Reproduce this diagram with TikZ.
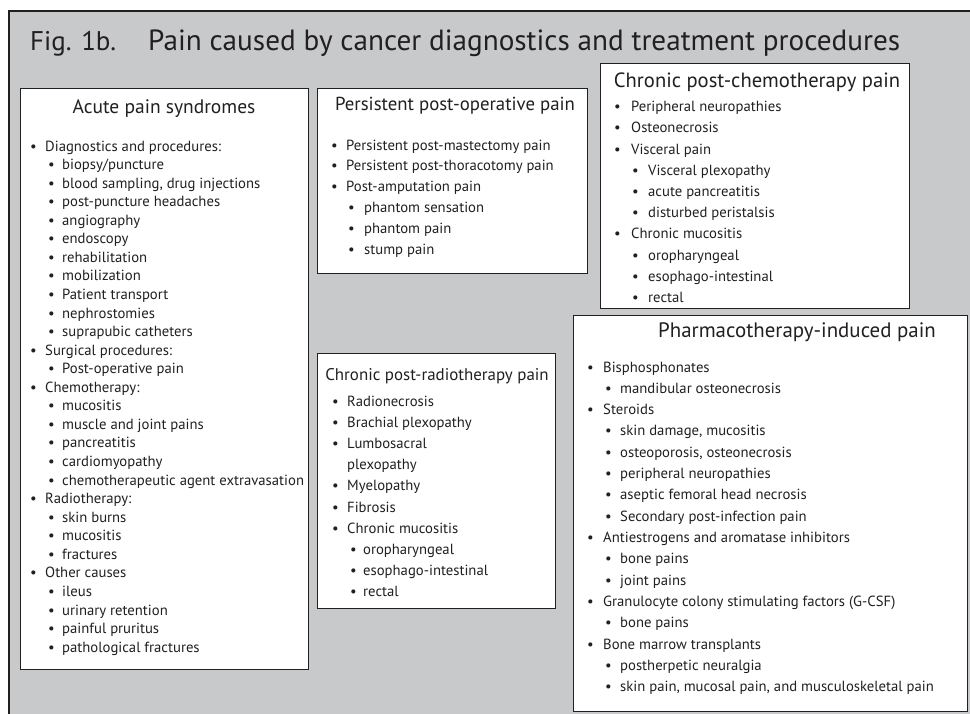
\documentclass[tikz,border=0pt]{standalone}
\usepackage{fontspec}
\setmainfont{PT Sans}
\definecolor{panel}{HTML}{C8C9CB}
\definecolor{ink}{HTML}{231F20}

\tikzset{
  box/.style={draw=ink, line width=1.3pt, fill=white, anchor=north west, inner sep=0pt},
  head/.style={anchor=base, inner sep=0pt, text=ink, font=\fontsize{#1}{#1}\selectfont},
  head/.default=19.5,
  entry/.style={anchor=base west, inner sep=0pt, text=ink, font=\fontsize{14.7}{14.7}\selectfont},
  figtitle/.style={anchor=base west, inner sep=0pt, text=ink, font=\fontsize{#1}{#1}\selectfont},
}

% #1 name prefix, #2 bullet x, #3 text x, #4 sub-bullet x, #5 sub-text x,
% #6 first baseline, #7 line spacing, #8 list of level/text pairs
% level 0 = bullet, 1 = sub-bullet, 2 = continuation line
\newcommand\bulletlist[8]{%
  \foreach \lvl/\txt [count=\k] in {#8} {
    \pgfmathsetmacro\yy{#6+(\k-1)*#7}
    \ifcase\lvl
      \node[entry] (#1b\k) at (#2,\yy) {\textbullet};
      \node[entry] (#1\k) at (#3,\yy) {\txt};
    \or
      \node[entry] (#1b\k) at (#4,\yy) {\textbullet};
      \node[entry] (#1\k) at (#5,\yy) {\txt};
    \or
      \node[entry] (#1\k) at (#3,\yy) {\txt};
    \fi
  }%
}

\begin{document}
\begin{tikzpicture}[x=1pt, y=-1pt]
\useasboundingbox (0,0) rectangle (970,713);
\clip (0,0) rectangle (970,713);

% grey panel with its top and left border
\fill[panel] (9,11) rectangle (975,720);
\draw[ink, line width=1.3pt] (9,720) |- (975,11);

% figure title
\node[figtitle=27] (fig) at (30,50) {Fig. 1b.};
\node[figtitle=29.2] (title) at (148,50) {Pain caused by cancer diagnostics and treatment procedures};

% boxes
\node[box, minimum width=288pt, minimum height=581pt] (acute) at (20,88) {};
\node[box, minimum width=270pt, minimum height=185pt] (postop) at (317,88) {};
\node[box, minimum width=309pt, minimum height=245pt] (chemo) at (600,63) {};
\node[box, minimum width=238pt, minimum height=255pt] (radio) at (317,353) {};
\node[box, minimum width=394pt, minimum height=396pt] (pharma) at (573,315) {};

% box headings
\node[head=19.5] (acuteH) at (164,113) {Acute pain syndromes};
\node[head=18.8] (postopH) at (455,110) {Persistent post-operative pain};
\node[head=20.6] (chemoH) at (757,87) {Chronic post-chemotherapy pain};
\node[head=16.9] (radioH) at (437,380) {Chronic post-radiotherapy pain};
\node[head=20.9] (pharmaH) at (797,337) {Pharmacotherapy-induced pain};

% acute pain syndromes
\bulletlist{a}{30}{45}{48}{62}{151}{18.56}{
  0/{Diagnostics and procedures:},
  1/{biopsy/puncture},
  1/{blood sampling, drug injections},
  1/{post-puncture headaches},
  1/{angiography},
  1/{endoscopy},
  1/{rehabilitation},
  1/{mobilization},
  1/{Patient transport},
  1/{nephrostomies},
  1/{suprapubic catheters},
  0/{Surgical procedures:},
  1/{Post-operative pain},
  0/{Chemotherapy:},
  1/{mucositis},
  1/{muscle and joint pains},
  1/{pancreatitis},
  1/{cardiomyopathy},
  1/{chemotherapeutic agent extravasation},
  0/{Radiotherapy:},
  1/{skin burns},
  1/{mucositis},
  1/{fractures},
  0/{Other causes},
  1/{ileus},
  1/{urinary retention},
  1/{painful pruritus},
  1/{pathological fractures}}

% persistent post-operative pain
\bulletlist{p}{331}{346}{348}{364}{150}{20.9}{
  0/{Persistent post-mastectomy pain},
  0/{Persistent post-thoracotomy pain},
  0/{Post-amputation pain},
  1/{phantom sensation},
  1/{phantom pain},
  1/{stump pain}}

% chronic post-chemotherapy pain
\bulletlist{c}{614}{631}{632}{648}{111.7}{21.2}{
  0/{Peripheral neuropathies},
  0/{Osteonecrosis},
  0/{Visceral pain},
  1/{Visceral plexopathy},
  1/{acute pancreatitis},
  1/{disturbed peristalsis},
  0/{Chronic mucositis},
  1/{oropharyngeal},
  1/{esophago-intestinal},
  1/{rectal}}

% chronic post-radiotherapy pain
\bulletlist{r}{332}{347}{350}{363}{406}{21.2}{
  0/{Radionecrosis},
  0/{Brachial plexopathy},
  0/{Lumbosacral},
  2/{plexopathy},
  0/{Myelopathy},
  0/{Fibrosis},
  0/{Chronic mucositis},
  1/{oropharyngeal},
  1/{esophago-intestinal},
  1/{rectal}}

% pharmacotherapy-induced pain
\bulletlist{m}{587}{603}{605}{620}{372}{21.33}{
  0/{Bisphosphonates},
  1/{mandibular osteonecrosis},
  0/{Steroids},
  1/{skin damage, mucositis},
  1/{osteoporosis, osteonecrosis},
  1/{peripheral neuropathies},
  1/{aseptic femoral head necrosis},
  1/{Secondary post-infection pain},
  0/{Antiestrogens and aromatase inhibitors},
  1/{bone pains},
  1/{joint pains},
  0/{Granulocyte colony stimulating factors (G-CSF)},
  1/{bone pains},
  0/{Bone marrow transplants},
  1/{postherpetic neuralgia},
  1/{skin pain, mucosal pain, and musculoskeletal pain}}
\end{tikzpicture}
\end{document}
